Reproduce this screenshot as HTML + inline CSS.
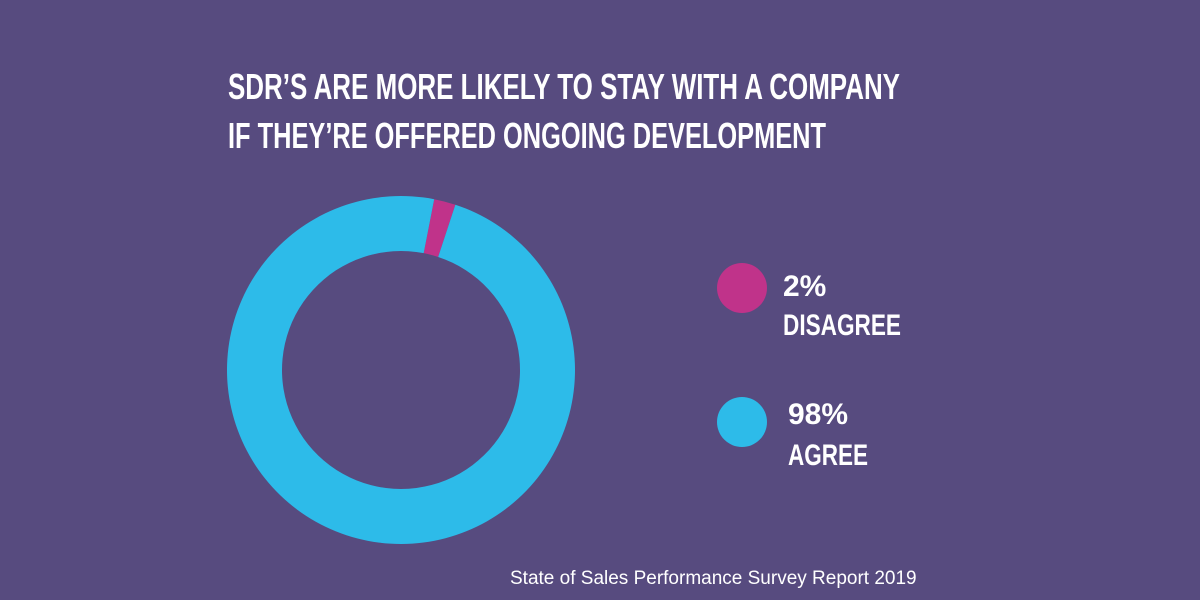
<!DOCTYPE html>
<html><head><meta charset="utf-8"><style>
html,body{margin:0;padding:0;background:#574b7f;}
svg{display:block}
.t{font-family:"Liberation Sans Narrow","Liberation Sans",sans-serif;font-weight:bold;fill:#fff;}
</style></head><body>
<svg width="1200" height="600" viewBox="0 0 1200 600">
<rect width="1200" height="600" fill="#574b7f"/>
<text class="t" x="228" y="99" font-size="36" textLength="672" lengthAdjust="spacingAndGlyphs">SDR’S ARE MORE LIKELY TO STAY WITH A COMPANY</text>
<text class="t" x="228" y="148" font-size="36" textLength="598" lengthAdjust="spacingAndGlyphs">IF THEY’RE OFFERED ONGOING DEVELOPMENT</text>
<g id="donut"></g>
<circle cx="742" cy="288" r="25" fill="#c0338a"/>
<text class="t" x="783" y="296" font-size="30">2%</text>
<text class="t" x="783" y="335" font-size="30" textLength="118" lengthAdjust="spacingAndGlyphs">DISAGREE</text>
<circle cx="742" cy="422" r="25" fill="#2dbbe9"/>
<text class="t" x="788" y="424" font-size="30">98%</text>
<text class="t" x="788" y="465" font-size="30" textLength="80" lengthAdjust="spacingAndGlyphs">AGREE</text>
<text x="510" y="584" font-family="Liberation Sans,sans-serif" font-size="19" fill="#fff">State of Sales Performance Survey Report 2019</text>
</svg>
<script>
const categories=["Disagree","Agree"];
const values=[2,98];
const colors=["#c0338a","#2dbbe9"];
const cx=401,cy=370,R=174,r=119,startDeg=11;
const g=document.getElementById('donut');
const total=values.reduce((a,b)=>a+b,0);
let a=startDeg*Math.PI/180;
function pt(rad,ang){return [cx+rad*Math.sin(ang),cy-rad*Math.cos(ang)];}
values.forEach((v,i)=>{
  const sweep=v/total*2*Math.PI;
  const a2=a+sweep;
  const large=sweep>Math.PI?1:0;
  const [x1,y1]=pt(R,a),[x2,y2]=pt(R,a2),[x3,y3]=pt(r,a2),[x4,y4]=pt(r,a);
  const p=document.createElementNS('http://www.w3.org/2000/svg','path');
  p.setAttribute('d',`M${x1},${y1}A${R},${R} 0 ${large} 1 ${x2},${y2}L${x3},${y3}A${r},${r} 0 ${large} 0 ${x4},${y4}Z`);
  p.setAttribute('fill',colors[i]);
  
  
  g.appendChild(p);
  a=a2;
});
</script>
</body></html>
